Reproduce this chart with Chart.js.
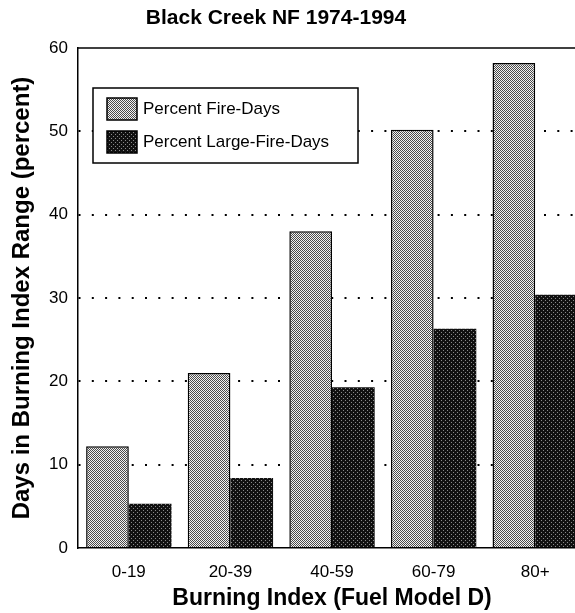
<!DOCTYPE html>
<html>
<head>
<meta charset="utf-8">
<script src="https://cdn.jsdelivr.net/npm/chart.js@4/dist/chart.umd.min.js"></script>
<style>
  html, body { margin: 0; padding: 0; background: #fff; overflow: hidden; }
  #wrap { position: relative; width: 590px; height: 613px; }
</style>
</head>
<body>
<div id="wrap"><canvas id="grafica"></canvas></div>
<script>
// datos
const categorias = ["0-19", "20-39", "40-59", "60-79", "80+"];
const fireDays = [12.2, 21, 38, 50.2, 58.2];
const largeFireDays = [5.3, 8.4, 19.3, 26.3, 30.4];
const yTicks = [0, 10, 20, 30, 40, 50, 60];

const titulo = "Black Creek NF 1974-1994";
const FUENTE = "'Liberation Sans', Arial, Helvetica, sans-serif";

// tramas de puntos para imitar el sombreado de la figura impresa
function trama(fondo, punto, celdas) {
    const c = document.createElement("canvas");
    c.width = 4; c.height = 4;
    const g = c.getContext("2d");
    g.fillStyle = fondo;
    g.fillRect(0, 0, 4, 4);
    g.fillStyle = punto;
    celdas.forEach(([x, y]) => g.fillRect(x, y, 1, 1));
    return g.createPattern(c, "repeat");
}
const claro = trama("#f2f2f2", "#4a4a4a", [[0,0],[2,0],[1,1],[3,1],[0,2],[2,2],[1,3],[3,3]]);
const oscuro = trama("#111", "#8a8a8a", [[1,0],[3,2]]);

// leyenda dentro del grafico + marco superior + titulo
const extras = {
    id: "extras",
    afterDatasetsDraw(chart) {
        const ctx = chart.ctx;
        const a = chart.chartArea;
        ctx.save();
        // linea superior del marco
        ctx.strokeStyle = "#000";
        ctx.lineWidth = 1.5;
        ctx.beginPath();
        ctx.moveTo(a.left, a.top);
        ctx.lineTo(a.right, a.top);
        ctx.stroke();

        // caja de la leyenda
        ctx.fillStyle = "#fff";
        ctx.fillRect(93, 88, 265, 75);
        ctx.strokeRect(93, 88, 265, 75);
        ctx.font = "17px " + FUENTE;
        ctx.textBaseline = "middle";
        chart.data.datasets.forEach((ds, i) => {
            const y = 98 + i * 33;
            ctx.fillStyle = ds.backgroundColor;
            ctx.fillRect(107, y, 30, 22);
            ctx.lineWidth = 1.5;
            ctx.strokeRect(107, y, 30, 22);
            ctx.fillStyle = "#000";
            ctx.fillText(ds.label, 143, y + 11);
        });

        // titulo
        ctx.font = "bold 21px " + FUENTE;
        ctx.textAlign = "center";
        ctx.fillText(titulo, 276, 18);
        ctx.restore();
    }
};

const ctx = document.getElementById("grafica").getContext("2d");
new Chart(ctx, {
    type: "bar",
    data: {
        labels: categorias,
        datasets: [
            {
                label: "Percent Fire-Days",
                data: fireDays,
                backgroundColor: claro,
                borderColor: "#000",
                borderWidth: 1.5,
                categoryPercentage: 0.84,
                barPercentage: 1.0,
            },
            {
                label: "Percent Large-Fire-Days",
                data: largeFireDays,
                backgroundColor: oscuro,
                borderColor: "#111",
                borderWidth: 0,
                categoryPercentage: 0.84,
                barPercentage: 1.0,
            },
        ],
    },
    options: {
        responsive: true,
        maintainAspectRatio: false,
        animation: false,
        layout: { padding: { top: 48, right: 4, bottom: 0, left: 0 } },
        plugins: {
            legend: { display: false },
            tooltip: { enabled: false },
        },
        scales: {
            x: {
                grid: { display: false, drawTicks: false },
                border: { display: true, color: "#000", width: 1.5 },
                ticks: { color: "#000", padding: 14, font: { family: FUENTE, size: 17 } },
                title: {
                    display: true,
                    text: "Burning Index (Fuel Model D)",
                    color: "#000",
                    font: { family: FUENTE, size: 23, weight: "bold" },
                    padding: { top: 0, bottom: 1 },
                },
                afterFit(scale) { scale.height = 65; },
            },
            y: {
                min: 0,
                max: 60,
                afterBuildTicks(scale) { scale.ticks = yTicks.map(v => ({ value: v })); },
                grid: {
                    drawTicks: false,
                    color: c => (c.tick.value === 0 || c.tick.value === 60) ? "rgba(0,0,0,0)" : "#000",
                    lineWidth: 2,
                },
                border: { display: true, color: "#000", width: 1.5, dash: [2, 11.3] },
                ticks: { color: "#000", padding: 10, font: { family: FUENTE, size: 17 } },
                title: {
                    display: true,
                    text: "Days in Burning Index Range (percent)",
                    color: "#000",
                    font: { family: FUENTE, size: 24, weight: "bold" },
                    padding: { top: 8, bottom: 0 },
                },
                afterFit(scale) { scale.width = 78; },
            },
        },
    },
    plugins: [extras],
});
</script>
</body>
</html>
